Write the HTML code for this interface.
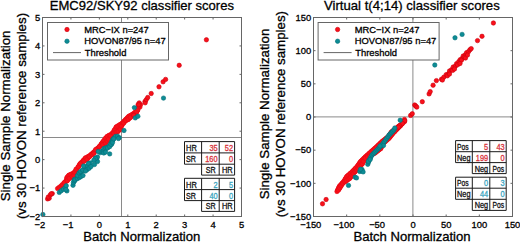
<!DOCTYPE html><html><head><meta charset="utf-8"><style>html,body{margin:0;padding:0;background:#fff;overflow:hidden}svg{display:block}</style></head><body>
<svg width="520" height="242" viewBox="0 0 520 242" xmlns="http://www.w3.org/2000/svg" font-family='"Liberation Sans", sans-serif'>
<rect width="520" height="242" fill="#fff"/>
<text x="141.9" y="9.8" font-size="13.15" text-anchor="middle" fill="#000" stroke="#000" stroke-width="0.3" textLength="184.2" lengthAdjust="spacingAndGlyphs">EMC92/SKY92 classifier scores</text>
<text x="411.9" y="9.8" font-size="13.15" text-anchor="middle" fill="#000" stroke="#000" stroke-width="0.3" textLength="175.7" lengthAdjust="spacingAndGlyphs">Virtual t(4;14) classifier scores</text>
<g transform="translate(9.8,115.9) rotate(-90)"><text x="0" y="0" font-size="13.3" text-anchor="middle" stroke="#000" stroke-width="0.3">Single Sample Normalization</text></g>
<g transform="translate(25.9,116.0) rotate(-90)"><text x="0" y="0" font-size="13.3" text-anchor="middle" stroke="#000" stroke-width="0.3">(vs 30 HOVON reference samples)</text></g>
<text x="141.75" y="241.2" font-size="13.1" text-anchor="middle" fill="#000" stroke="#000" stroke-width="0.3" >Batch Normalization</text>
<g transform="translate(268.5,114.0) rotate(-90)"><text x="0" y="0" font-size="13.3" text-anchor="middle" stroke="#000" stroke-width="0.3">Single Sample Normalization</text></g>
<g transform="translate(284.59999999999997,114.1) rotate(-90)"><text x="0" y="0" font-size="13.3" text-anchor="middle" stroke="#000" stroke-width="0.3">(vs 30 HOVON reference samples)</text></g>
<text x="412.0" y="241.2" font-size="13.1" text-anchor="middle" fill="#000" stroke="#000" stroke-width="0.3" >Batch Normalization</text>
<line x1="121.5" y1="17.5" x2="121.5" y2="216.5" stroke="#8a8a8a" stroke-width="1"/>
<line x1="42.5" y1="137.5" x2="241.5" y2="137.5" stroke="#8a8a8a" stroke-width="1"/>
<polygon points="57.80,186.60 61.40,183.30 64.00,179.50 64.80,176.50 67.50,173.30 71.80,171.30 74.50,168.60 76.50,165.50 77.70,163.00 79.20,161.30 81.80,158.60 84.00,156.00 87.30,154.30 90.00,152.30 93.40,149.30 95.80,146.70 97.50,145.30 99.40,142.60 101.80,139.30 103.80,136.60 105.80,134.50 110.30,131.90 112.50,128.60 114.50,125.30 118.50,122.70 120.80,121.20 123.90,117.90 127.20,114.60 130.70,112.60 133.40,110.60 136.00,108.60 137.80,106.00 138.30,104.00 140.50,104.00 141.00,106.50 140.00,110.00 138.00,114.60 134.80,116.60 132.10,119.20 129.50,121.50 127.30,122.50 125.50,124.60 123.50,127.30 122.20,130.60 119.50,133.30 117.00,134.50 115.00,135.00 112.50,137.50 110.50,140.60 109.00,142.50 107.00,145.00 104.00,146.80 100.50,148.60 97.50,151.00 95.80,154.60 93.50,156.50 91.00,158.50 88.50,161.30 85.20,163.30 82.00,165.50 80.00,168.30 78.00,170.50 77.00,173.00 76.00,176.50 73.80,178.50 70.80,180.30 68.80,182.60 65.50,184.60 62.50,187.90 59.00,190.50" fill="#f8101a"/>
<circle cx="59.42" cy="188.37" r="2.2" fill="#f8101a" stroke="#e80814" stroke-width="0.6"/>
<circle cx="61.22" cy="186.72" r="2.2" fill="#f8101a" stroke="#e80814" stroke-width="0.6"/>
<circle cx="63.21" cy="184.88" r="2.2" fill="#f8101a" stroke="#e80814" stroke-width="0.6"/>
<circle cx="64.68" cy="182.76" r="2.2" fill="#f8101a" stroke="#e80814" stroke-width="0.6"/>
<circle cx="66.21" cy="180.45" r="2.2" fill="#f8101a" stroke="#e80814" stroke-width="0.6"/>
<circle cx="66.97" cy="177.52" r="2.2" fill="#f8101a" stroke="#e80814" stroke-width="0.6"/>
<circle cx="67.98" cy="176.45" r="2.2" fill="#f8101a" stroke="#e80814" stroke-width="0.6"/>
<circle cx="68.93" cy="175.23" r="2.2" fill="#f8101a" stroke="#e80814" stroke-width="0.6"/>
<circle cx="70.66" cy="174.48" r="2.2" fill="#f8101a" stroke="#e80814" stroke-width="0.6"/>
<circle cx="73.26" cy="173.21" r="2.2" fill="#f8101a" stroke="#e80814" stroke-width="0.6"/>
<circle cx="76.36" cy="170.11" r="2.2" fill="#f8101a" stroke="#e80814" stroke-width="0.6"/>
<circle cx="78.58" cy="166.69" r="2.2" fill="#f8101a" stroke="#e80814" stroke-width="0.6"/>
<circle cx="79.72" cy="164.3" r="2.2" fill="#f8101a" stroke="#e80814" stroke-width="0.6"/>
<circle cx="80.96" cy="162.94" r="2.2" fill="#f8101a" stroke="#e80814" stroke-width="0.6"/>
<circle cx="83.58" cy="160.21" r="2.2" fill="#f8101a" stroke="#e80814" stroke-width="0.6"/>
<circle cx="85.48" cy="157.89" r="2.2" fill="#f8101a" stroke="#e80814" stroke-width="0.6"/>
<circle cx="88.56" cy="156.34" r="2.2" fill="#f8101a" stroke="#e80814" stroke-width="0.6"/>
<circle cx="91.49" cy="154.18" r="2.2" fill="#f8101a" stroke="#e80814" stroke-width="0.6"/>
<circle cx="93.29" cy="152.6" r="2.2" fill="#f8101a" stroke="#e80814" stroke-width="0.6"/>
<circle cx="95.1" cy="151.0" r="2.2" fill="#f8101a" stroke="#e80814" stroke-width="0.6"/>
<circle cx="97.48" cy="148.42" r="2.2" fill="#f8101a" stroke="#e80814" stroke-width="0.6"/>
<circle cx="99.3" cy="146.88" r="2.2" fill="#f8101a" stroke="#e80814" stroke-width="0.6"/>
<circle cx="101.35" cy="143.99" r="2.2" fill="#f8101a" stroke="#e80814" stroke-width="0.6"/>
<circle cx="102.54" cy="142.36" r="2.2" fill="#f8101a" stroke="#e80814" stroke-width="0.6"/>
<circle cx="103.73" cy="140.72" r="2.2" fill="#f8101a" stroke="#e80814" stroke-width="0.6"/>
<circle cx="105.64" cy="138.14" r="2.2" fill="#f8101a" stroke="#e80814" stroke-width="0.6"/>
<circle cx="107.3" cy="136.37" r="2.2" fill="#f8101a" stroke="#e80814" stroke-width="0.6"/>
<circle cx="109.25" cy="135.28" r="2.2" fill="#f8101a" stroke="#e80814" stroke-width="0.6"/>
<circle cx="112.02" cy="133.57" r="2.2" fill="#f8101a" stroke="#e80814" stroke-width="0.6"/>
<circle cx="114.52" cy="129.89" r="2.2" fill="#f8101a" stroke="#e80814" stroke-width="0.6"/>
<circle cx="116.31" cy="126.87" r="2.2" fill="#f8101a" stroke="#e80814" stroke-width="0.6"/>
<circle cx="117.81" cy="126.01" r="2.2" fill="#f8101a" stroke="#e80814" stroke-width="0.6"/>
<circle cx="119.81" cy="124.71" r="2.2" fill="#f8101a" stroke="#e80814" stroke-width="0.6"/>
<circle cx="122.32" cy="123.06" r="2.2" fill="#f8101a" stroke="#e80814" stroke-width="0.6"/>
<circle cx="124.1" cy="121.19" r="2.2" fill="#f8101a" stroke="#e80814" stroke-width="0.6"/>
<circle cx="125.62" cy="119.57" r="2.2" fill="#f8101a" stroke="#e80814" stroke-width="0.6"/>
<circle cx="127.25" cy="117.95" r="2.2" fill="#f8101a" stroke="#e80814" stroke-width="0.6"/>
<circle cx="128.68" cy="116.49" r="2.2" fill="#f8101a" stroke="#e80814" stroke-width="0.6"/>
<circle cx="130.14" cy="115.68" r="2.2" fill="#f8101a" stroke="#e80814" stroke-width="0.6"/>
<circle cx="132.04" cy="114.59" r="2.2" fill="#f8101a" stroke="#e80814" stroke-width="0.6"/>
<circle cx="134.85" cy="112.52" r="2.2" fill="#f8101a" stroke="#e80814" stroke-width="0.6"/>
<circle cx="137.73" cy="110.26" r="2.2" fill="#f8101a" stroke="#e80814" stroke-width="0.6"/>
<circle cx="139.95" cy="107.07" r="2.2" fill="#f8101a" stroke="#e80814" stroke-width="0.6"/>
<circle cx="140.63" cy="104.58" r="2.2" fill="#f8101a" stroke="#e80814" stroke-width="0.6"/>
<circle cx="57.57" cy="188.57" r="2.2" fill="#f8101a" stroke="#e80814" stroke-width="0.6"/>
<circle cx="59.32" cy="187.27" r="2.2" fill="#f8101a" stroke="#e80814" stroke-width="0.6"/>
<circle cx="60.89" cy="186.12" r="2.2" fill="#f8101a" stroke="#e80814" stroke-width="0.6"/>
<circle cx="62.22" cy="184.64" r="2.2" fill="#f8101a" stroke="#e80814" stroke-width="0.6"/>
<circle cx="64.05" cy="182.69" r="2.2" fill="#f8101a" stroke="#e80814" stroke-width="0.6"/>
<circle cx="67.29" cy="180.74" r="2.2" fill="#f8101a" stroke="#e80814" stroke-width="0.6"/>
<circle cx="69.28" cy="178.44" r="2.2" fill="#f8101a" stroke="#e80814" stroke-width="0.6"/>
<circle cx="72.38" cy="176.56" r="2.2" fill="#f8101a" stroke="#e80814" stroke-width="0.6"/>
<circle cx="73.93" cy="175.29" r="2.2" fill="#f8101a" stroke="#e80814" stroke-width="0.6"/>
<circle cx="74.72" cy="172.24" r="2.2" fill="#f8101a" stroke="#e80814" stroke-width="0.6"/>
<circle cx="75.98" cy="169.21" r="2.2" fill="#f8101a" stroke="#e80814" stroke-width="0.6"/>
<circle cx="78.13" cy="166.8" r="2.2" fill="#f8101a" stroke="#e80814" stroke-width="0.6"/>
<circle cx="80.34" cy="163.77" r="2.2" fill="#f8101a" stroke="#e80814" stroke-width="0.6"/>
<circle cx="83.9" cy="161.28" r="2.2" fill="#f8101a" stroke="#e80814" stroke-width="0.6"/>
<circle cx="86.97" cy="159.45" r="2.2" fill="#f8101a" stroke="#e80814" stroke-width="0.6"/>
<circle cx="89.34" cy="156.77" r="2.2" fill="#f8101a" stroke="#e80814" stroke-width="0.6"/>
<circle cx="91.99" cy="154.64" r="2.2" fill="#f8101a" stroke="#e80814" stroke-width="0.6"/>
<circle cx="93.86" cy="153.19" r="2.2" fill="#f8101a" stroke="#e80814" stroke-width="0.6"/>
<circle cx="95.61" cy="149.52" r="2.2" fill="#f8101a" stroke="#e80814" stroke-width="0.6"/>
<circle cx="99.2" cy="146.58" r="2.2" fill="#f8101a" stroke="#e80814" stroke-width="0.6"/>
<circle cx="102.84" cy="144.7" r="2.2" fill="#f8101a" stroke="#e80814" stroke-width="0.6"/>
<circle cx="105.44" cy="143.18" r="2.2" fill="#f8101a" stroke="#e80814" stroke-width="0.6"/>
<circle cx="107.12" cy="141.01" r="2.2" fill="#f8101a" stroke="#e80814" stroke-width="0.6"/>
<circle cx="108.53" cy="139.22" r="2.2" fill="#f8101a" stroke="#e80814" stroke-width="0.6"/>
<circle cx="110.63" cy="136.0" r="2.2" fill="#f8101a" stroke="#e80814" stroke-width="0.6"/>
<circle cx="113.67" cy="133.0" r="2.2" fill="#f8101a" stroke="#e80814" stroke-width="0.6"/>
<circle cx="116.15" cy="132.25" r="2.2" fill="#f8101a" stroke="#e80814" stroke-width="0.6"/>
<circle cx="118.06" cy="131.38" r="2.2" fill="#f8101a" stroke="#e80814" stroke-width="0.6"/>
<circle cx="120.2" cy="129.27" r="2.2" fill="#f8101a" stroke="#e80814" stroke-width="0.6"/>
<circle cx="121.4" cy="126.14" r="2.2" fill="#f8101a" stroke="#e80814" stroke-width="0.6"/>
<circle cx="123.62" cy="123.11" r="2.2" fill="#f8101a" stroke="#e80814" stroke-width="0.6"/>
<circle cx="125.83" cy="120.6" r="2.2" fill="#f8101a" stroke="#e80814" stroke-width="0.6"/>
<circle cx="128.14" cy="119.52" r="2.2" fill="#f8101a" stroke="#e80814" stroke-width="0.6"/>
<circle cx="130.47" cy="117.44" r="2.2" fill="#f8101a" stroke="#e80814" stroke-width="0.6"/>
<circle cx="133.32" cy="114.71" r="2.2" fill="#f8101a" stroke="#e80814" stroke-width="0.6"/>
<circle cx="136.28" cy="112.92" r="2.2" fill="#f8101a" stroke="#e80814" stroke-width="0.6"/>
<circle cx="136.8" cy="111.34" r="2.2" fill="#f8101a" stroke="#e80814" stroke-width="0.6"/>
<circle cx="137.73" cy="109.22" r="2.2" fill="#f8101a" stroke="#e80814" stroke-width="0.6"/>
<circle cx="138.61" cy="106.3" r="2.2" fill="#f8101a" stroke="#e80814" stroke-width="0.6"/>
<circle cx="138.15" cy="104.47" r="2.2" fill="#f8101a" stroke="#e80814" stroke-width="0.6"/>
<circle cx="47.6" cy="198.9" r="2.2" fill="#f8101a" stroke="#cc000e" stroke-width="0.6"/>
<circle cx="49.2" cy="198.2" r="2.2" fill="#f8101a" stroke="#cc000e" stroke-width="0.6"/>
<circle cx="48.3" cy="197" r="2.2" fill="#f8101a" stroke="#cc000e" stroke-width="0.6"/>
<circle cx="50.3" cy="195" r="2.2" fill="#f8101a" stroke="#cc000e" stroke-width="0.6"/>
<circle cx="52.3" cy="193.6" r="2.2" fill="#f8101a" stroke="#cc000e" stroke-width="0.6"/>
<circle cx="51.2" cy="193.8" r="2.2" fill="#f8101a" stroke="#cc000e" stroke-width="0.6"/>
<circle cx="145" cy="101.5" r="2.2" fill="#f8101a" stroke="#cc000e" stroke-width="0.6"/>
<circle cx="145.2" cy="102.8" r="2.2" fill="#f8101a" stroke="#cc000e" stroke-width="0.6"/>
<circle cx="146.3" cy="99.6" r="2.2" fill="#f8101a" stroke="#cc000e" stroke-width="0.6"/>
<circle cx="147.7" cy="97.5" r="2.2" fill="#f8101a" stroke="#cc000e" stroke-width="0.6"/>
<circle cx="151.2" cy="93.5" r="2.2" fill="#f8101a" stroke="#cc000e" stroke-width="0.6"/>
<circle cx="159" cy="86.8" r="2.2" fill="#f8101a" stroke="#cc000e" stroke-width="0.6"/>
<circle cx="163.1" cy="81.8" r="2.2" fill="#f8101a" stroke="#cc000e" stroke-width="0.6"/>
<circle cx="165.6" cy="79.4" r="2.2" fill="#f8101a" stroke="#cc000e" stroke-width="0.6"/>
<circle cx="179.2" cy="65.3" r="2.2" fill="#f8101a" stroke="#cc000e" stroke-width="0.6"/>
<circle cx="206.4" cy="39.8" r="2.2" fill="#f8101a" stroke="#cc000e" stroke-width="0.6"/>
<circle cx="139.2" cy="102.9" r="2.2" fill="#f8101a" stroke="#cc000e" stroke-width="0.6"/>
<circle cx="138.8" cy="104.8" r="2.2" fill="#f8101a" stroke="#cc000e" stroke-width="0.6"/>
<circle cx="133.8" cy="115.2" r="2.2" fill="#f8101a" stroke="#cc000e" stroke-width="0.6"/>
<circle cx="74.35" cy="181.4" r="2.2" fill="#0d8c95" stroke="#057078" stroke-width="0.6"/>
<circle cx="76.15" cy="178.9" r="2.2" fill="#0d8c95" stroke="#057078" stroke-width="0.6"/>
<circle cx="77.9" cy="176.47" r="2.2" fill="#0d8c95" stroke="#057078" stroke-width="0.6"/>
<circle cx="80.2" cy="173.68" r="2.2" fill="#0d8c95" stroke="#057078" stroke-width="0.6"/>
<circle cx="82.49" cy="170.9" r="2.2" fill="#0d8c95" stroke="#057078" stroke-width="0.6"/>
<circle cx="84.46" cy="168.93" r="2.2" fill="#0d8c95" stroke="#057078" stroke-width="0.6"/>
<circle cx="86.53" cy="166.86" r="2.2" fill="#0d8c95" stroke="#057078" stroke-width="0.6"/>
<circle cx="88.63" cy="164.77" r="2.2" fill="#0d8c95" stroke="#057078" stroke-width="0.6"/>
<circle cx="90.36" cy="162.9" r="2.2" fill="#0d8c95" stroke="#057078" stroke-width="0.6"/>
<circle cx="100.22" cy="152.66" r="2.2" fill="#0d8c95" stroke="#057078" stroke-width="0.6"/>
<circle cx="102.67" cy="150.64" r="2.2" fill="#0d8c95" stroke="#057078" stroke-width="0.6"/>
<circle cx="105.27" cy="149.53" r="2.2" fill="#0d8c95" stroke="#057078" stroke-width="0.6"/>
<circle cx="108.27" cy="147.11" r="2.2" fill="#0d8c95" stroke="#057078" stroke-width="0.6"/>
<circle cx="111.51" cy="144.31" r="2.2" fill="#0d8c95" stroke="#057078" stroke-width="0.6"/>
<circle cx="112.81" cy="140.16" r="2.2" fill="#0d8c95" stroke="#057078" stroke-width="0.6"/>
<circle cx="42.9" cy="214.5" r="2.2" fill="#0d8c95" stroke="#057078" stroke-width="0.6"/>
<circle cx="59.3" cy="192.4" r="2.2" fill="#0d8c95" stroke="#057078" stroke-width="0.6"/>
<circle cx="61.3" cy="190.7" r="2.2" fill="#0d8c95" stroke="#057078" stroke-width="0.6"/>
<circle cx="63.4" cy="189.2" r="2.2" fill="#0d8c95" stroke="#057078" stroke-width="0.6"/>
<circle cx="65.3" cy="187.4" r="2.2" fill="#0d8c95" stroke="#057078" stroke-width="0.6"/>
<circle cx="66.3" cy="185.7" r="2.2" fill="#0d8c95" stroke="#057078" stroke-width="0.6"/>
<circle cx="66.9" cy="190.9" r="2.2" fill="#0d8c95" stroke="#057078" stroke-width="0.6"/>
<circle cx="65.9" cy="189.6" r="2.2" fill="#0d8c95" stroke="#057078" stroke-width="0.6"/>
<circle cx="73.0" cy="185.3" r="2.2" fill="#0d8c95" stroke="#057078" stroke-width="0.6"/>
<circle cx="73.4" cy="182.8" r="2.2" fill="#0d8c95" stroke="#057078" stroke-width="0.6"/>
<circle cx="73.9" cy="180.8" r="2.2" fill="#0d8c95" stroke="#057078" stroke-width="0.6"/>
<circle cx="74.5" cy="179.3" r="2.2" fill="#0d8c95" stroke="#057078" stroke-width="0.6"/>
<circle cx="75" cy="180" r="2.2" fill="#0d8c95" stroke="#057078" stroke-width="0.6"/>
<circle cx="77.5" cy="178.6" r="2.2" fill="#0d8c95" stroke="#057078" stroke-width="0.6"/>
<circle cx="79.5" cy="177.5" r="2.2" fill="#0d8c95" stroke="#057078" stroke-width="0.6"/>
<circle cx="77.5" cy="175.5" r="2.2" fill="#0d8c95" stroke="#057078" stroke-width="0.6"/>
<circle cx="79" cy="173" r="2.2" fill="#0d8c95" stroke="#057078" stroke-width="0.6"/>
<circle cx="80.5" cy="171.5" r="2.2" fill="#0d8c95" stroke="#057078" stroke-width="0.6"/>
<circle cx="82.5" cy="170" r="2.2" fill="#0d8c95" stroke="#057078" stroke-width="0.6"/>
<circle cx="81" cy="176.5" r="2.2" fill="#0d8c95" stroke="#057078" stroke-width="0.6"/>
<circle cx="83" cy="175.5" r="2.2" fill="#0d8c95" stroke="#057078" stroke-width="0.6"/>
<circle cx="85" cy="167" r="2.2" fill="#0d8c95" stroke="#057078" stroke-width="0.6"/>
<circle cx="87.5" cy="166" r="2.2" fill="#0d8c95" stroke="#057078" stroke-width="0.6"/>
<circle cx="88.5" cy="163.5" r="2.2" fill="#0d8c95" stroke="#057078" stroke-width="0.6"/>
<circle cx="95.5" cy="158" r="2.2" fill="#0d8c95" stroke="#057078" stroke-width="0.6"/>
<circle cx="101.5" cy="151.5" r="2.2" fill="#0d8c95" stroke="#057078" stroke-width="0.6"/>
<circle cx="103.5" cy="151" r="2.2" fill="#0d8c95" stroke="#057078" stroke-width="0.6"/>
<circle cx="104" cy="148.5" r="2.2" fill="#0d8c95" stroke="#057078" stroke-width="0.6"/>
<circle cx="105.5" cy="148" r="2.2" fill="#0d8c95" stroke="#057078" stroke-width="0.6"/>
<circle cx="107" cy="147.5" r="2.2" fill="#0d8c95" stroke="#057078" stroke-width="0.6"/>
<circle cx="109" cy="146" r="2.2" fill="#0d8c95" stroke="#057078" stroke-width="0.6"/>
<circle cx="110.5" cy="144" r="2.2" fill="#0d8c95" stroke="#057078" stroke-width="0.6"/>
<circle cx="111.5" cy="142" r="2.2" fill="#0d8c95" stroke="#057078" stroke-width="0.6"/>
<circle cx="112.5" cy="140" r="2.2" fill="#0d8c95" stroke="#057078" stroke-width="0.6"/>
<circle cx="113.5" cy="138.5" r="2.2" fill="#0d8c95" stroke="#057078" stroke-width="0.6"/>
<circle cx="124" cy="130.5" r="2.2" fill="#0d8c95" stroke="#057078" stroke-width="0.6"/>
<circle cx="115.5" cy="136.5" r="2.2" fill="#0d8c95" stroke="#057078" stroke-width="0.6"/>
<circle cx="117.5" cy="136.2" r="2.2" fill="#0d8c95" stroke="#057078" stroke-width="0.6"/>
<circle cx="119.3" cy="137.6" r="2.2" fill="#0d8c95" stroke="#057078" stroke-width="0.6"/>
<circle cx="134.4" cy="107.6" r="2.2" fill="#0d8c95" stroke="#057078" stroke-width="0.6"/>
<circle cx="135.3" cy="117.9" r="2.2" fill="#0d8c95" stroke="#057078" stroke-width="0.6"/>
<circle cx="137.9" cy="116.3" r="2.2" fill="#0d8c95" stroke="#057078" stroke-width="0.6"/>
<circle cx="163.5" cy="98.1" r="2.2" fill="#0d8c95" stroke="#057078" stroke-width="0.6"/>
<circle cx="87.2" cy="169.6" r="2.2" fill="#0d8c95" stroke="#057078" stroke-width="0.6"/>
<circle cx="89.2" cy="168.2" r="2.2" fill="#0d8c95" stroke="#057078" stroke-width="0.6"/>
<circle cx="96.4" cy="159.5" r="2.2" fill="#0d8c95" stroke="#057078" stroke-width="0.6"/>
<circle cx="97.5" cy="157" r="2.2" fill="#0d8c95" stroke="#057078" stroke-width="0.6"/>
<circle cx="103.8" cy="153" r="2.2" fill="#0d8c95" stroke="#057078" stroke-width="0.6"/>
<circle cx="105.6" cy="152.1" r="2.2" fill="#0d8c95" stroke="#057078" stroke-width="0.6"/>
<circle cx="109.7" cy="153.9" r="2.2" fill="#0d8c95" stroke="#057078" stroke-width="0.6"/>
<circle cx="107.5" cy="148" r="2.2" fill="#0d8c95" stroke="#057078" stroke-width="0.6"/>
<circle cx="109.7" cy="146.6" r="2.2" fill="#0d8c95" stroke="#057078" stroke-width="0.6"/>
<circle cx="111.1" cy="144.4" r="2.2" fill="#0d8c95" stroke="#057078" stroke-width="0.6"/>
<circle cx="112.5" cy="142.5" r="2.2" fill="#0d8c95" stroke="#057078" stroke-width="0.6"/>
<circle cx="113.8" cy="138.9" r="2.2" fill="#0d8c95" stroke="#057078" stroke-width="0.6"/>
<circle cx="118.4" cy="138.5" r="2.2" fill="#0d8c95" stroke="#057078" stroke-width="0.6"/>
<circle cx="83.6" cy="166" r="2.2" fill="#0d8c95" stroke="#057078" stroke-width="0.6"/>
<circle cx="98.2" cy="151.5" r="2.2" fill="#0d8c95" stroke="#057078" stroke-width="0.6"/>
<circle cx="94.5" cy="164.5" r="2.2" fill="#0d8c95" stroke="#057078" stroke-width="0.6"/>
<circle cx="97.5" cy="161.5" r="2.2" fill="#0d8c95" stroke="#057078" stroke-width="0.6"/>
<circle cx="85.5" cy="171" r="2.2" fill="#0d8c95" stroke="#057078" stroke-width="0.6"/>
<circle cx="91" cy="166.5" r="2.2" fill="#0d8c95" stroke="#057078" stroke-width="0.6"/>
<circle cx="95.5" cy="158.5" r="2.2" fill="#0d8c95" stroke="#057078" stroke-width="0.6"/>
<circle cx="93.8" cy="160.2" r="2.2" fill="#0d8c95" stroke="#057078" stroke-width="0.6"/>
<line x1="412.9" y1="17.5" x2="412.9" y2="216.5" stroke="#8a8a8a" stroke-width="1"/>
<line x1="313.5" y1="116.9" x2="512.5" y2="116.9" stroke="#8a8a8a" stroke-width="1"/>
<polygon points="334.80,190.50 337.40,185.00 341.80,180.00 344.90,175.00 350.50,170.00 355.30,165.00 358.80,160.00 363.80,155.00 369.40,150.00 375.00,145.00 380.20,140.00 386.50,135.00 390.00,130.00 394.00,127.00 396.50,125.00 400.00,122.50 402.80,120.00 406.80,120.00 406.30,122.00 404.00,125.00 402.50,127.00 399.50,130.00 394.70,135.00 390.70,140.00 385.00,145.00 382.70,150.00 376.30,155.00 367.00,160.00 364.40,165.00 360.00,170.00 355.20,175.00 351.50,180.00 344.50,185.00 340.40,191.50" fill="#f8101a"/>
<circle cx="336.97" cy="191.53" r="2.2" fill="#f8101a" stroke="#e80814" stroke-width="0.6"/>
<circle cx="337.84" cy="189.69" r="2.2" fill="#f8101a" stroke="#e80814" stroke-width="0.6"/>
<circle cx="338.7" cy="187.86" r="2.2" fill="#f8101a" stroke="#e80814" stroke-width="0.6"/>
<circle cx="339.4" cy="186.33" r="2.2" fill="#f8101a" stroke="#e80814" stroke-width="0.6"/>
<circle cx="340.67" cy="184.92" r="2.2" fill="#f8101a" stroke="#e80814" stroke-width="0.6"/>
<circle cx="342.14" cy="183.25" r="2.2" fill="#f8101a" stroke="#e80814" stroke-width="0.6"/>
<circle cx="343.74" cy="181.41" r="2.2" fill="#f8101a" stroke="#e80814" stroke-width="0.6"/>
<circle cx="345.39" cy="178.76" r="2.2" fill="#f8101a" stroke="#e80814" stroke-width="0.6"/>
<circle cx="346.76" cy="176.52" r="2.2" fill="#f8101a" stroke="#e80814" stroke-width="0.6"/>
<circle cx="348.37" cy="175.12" r="2.2" fill="#f8101a" stroke="#e80814" stroke-width="0.6"/>
<circle cx="350.23" cy="173.46" r="2.2" fill="#f8101a" stroke="#e80814" stroke-width="0.6"/>
<circle cx="352.16" cy="171.73" r="2.2" fill="#f8101a" stroke="#e80814" stroke-width="0.6"/>
<circle cx="353.83" cy="170.0" r="2.2" fill="#f8101a" stroke="#e80814" stroke-width="0.6"/>
<circle cx="355.43" cy="168.33" r="2.2" fill="#f8101a" stroke="#e80814" stroke-width="0.6"/>
<circle cx="357.15" cy="166.53" r="2.2" fill="#f8101a" stroke="#e80814" stroke-width="0.6"/>
<circle cx="358.43" cy="164.71" r="2.2" fill="#f8101a" stroke="#e80814" stroke-width="0.6"/>
<circle cx="359.6" cy="163.04" r="2.2" fill="#f8101a" stroke="#e80814" stroke-width="0.6"/>
<circle cx="360.63" cy="161.55" r="2.2" fill="#f8101a" stroke="#e80814" stroke-width="0.6"/>
<circle cx="362.16" cy="160.03" r="2.2" fill="#f8101a" stroke="#e80814" stroke-width="0.6"/>
<circle cx="363.83" cy="158.36" r="2.2" fill="#f8101a" stroke="#e80814" stroke-width="0.6"/>
<circle cx="365.45" cy="156.75" r="2.2" fill="#f8101a" stroke="#e80814" stroke-width="0.6"/>
<circle cx="367.27" cy="155.12" r="2.2" fill="#f8101a" stroke="#e80814" stroke-width="0.6"/>
<circle cx="369.13" cy="153.46" r="2.2" fill="#f8101a" stroke="#e80814" stroke-width="0.6"/>
<circle cx="371.0" cy="151.79" r="2.2" fill="#f8101a" stroke="#e80814" stroke-width="0.6"/>
<circle cx="372.87" cy="150.12" r="2.2" fill="#f8101a" stroke="#e80814" stroke-width="0.6"/>
<circle cx="374.73" cy="148.46" r="2.2" fill="#f8101a" stroke="#e80814" stroke-width="0.6"/>
<circle cx="376.63" cy="146.76" r="2.2" fill="#f8101a" stroke="#e80814" stroke-width="0.6"/>
<circle cx="378.4" cy="145.06" r="2.2" fill="#f8101a" stroke="#e80814" stroke-width="0.6"/>
<circle cx="380.13" cy="143.4" r="2.2" fill="#f8101a" stroke="#e80814" stroke-width="0.6"/>
<circle cx="381.79" cy="141.8" r="2.2" fill="#f8101a" stroke="#e80814" stroke-width="0.6"/>
<circle cx="383.27" cy="140.63" r="2.2" fill="#f8101a" stroke="#e80814" stroke-width="0.6"/>
<circle cx="384.84" cy="139.38" r="2.2" fill="#f8101a" stroke="#e80814" stroke-width="0.6"/>
<circle cx="386.42" cy="138.13" r="2.2" fill="#f8101a" stroke="#e80814" stroke-width="0.6"/>
<circle cx="388.25" cy="136.64" r="2.2" fill="#f8101a" stroke="#e80814" stroke-width="0.6"/>
<circle cx="389.63" cy="134.71" r="2.2" fill="#f8101a" stroke="#e80814" stroke-width="0.6"/>
<circle cx="390.8" cy="133.04" r="2.2" fill="#f8101a" stroke="#e80814" stroke-width="0.6"/>
<circle cx="391.7" cy="131.7" r="2.2" fill="#f8101a" stroke="#e80814" stroke-width="0.6"/>
<circle cx="393.44" cy="130.42" r="2.2" fill="#f8101a" stroke="#e80814" stroke-width="0.6"/>
<circle cx="395.47" cy="128.89" r="2.2" fill="#f8101a" stroke="#e80814" stroke-width="0.6"/>
<circle cx="397.96" cy="126.91" r="2.2" fill="#f8101a" stroke="#e80814" stroke-width="0.6"/>
<circle cx="399.64" cy="125.7" r="2.2" fill="#f8101a" stroke="#e80814" stroke-width="0.6"/>
<circle cx="401.53" cy="124.35" r="2.2" fill="#f8101a" stroke="#e80814" stroke-width="0.6"/>
<circle cx="404.4" cy="121.79" r="2.2" fill="#f8101a" stroke="#e80814" stroke-width="0.6"/>
<circle cx="338.37" cy="190.22" r="2.2" fill="#f8101a" stroke="#e80814" stroke-width="0.6"/>
<circle cx="339.74" cy="188.05" r="2.2" fill="#f8101a" stroke="#e80814" stroke-width="0.6"/>
<circle cx="341.1" cy="185.89" r="2.2" fill="#f8101a" stroke="#e80814" stroke-width="0.6"/>
<circle cx="342.73" cy="183.38" r="2.2" fill="#f8101a" stroke="#e80814" stroke-width="0.6"/>
<circle cx="344.86" cy="181.8" r="2.2" fill="#f8101a" stroke="#e80814" stroke-width="0.6"/>
<circle cx="346.61" cy="180.55" r="2.2" fill="#f8101a" stroke="#e80814" stroke-width="0.6"/>
<circle cx="348.36" cy="179.3" r="2.2" fill="#f8101a" stroke="#e80814" stroke-width="0.6"/>
<circle cx="349.82" cy="178.28" r="2.2" fill="#f8101a" stroke="#e80814" stroke-width="0.6"/>
<circle cx="350.8" cy="176.91" r="2.2" fill="#f8101a" stroke="#e80814" stroke-width="0.6"/>
<circle cx="352.04" cy="175.24" r="2.2" fill="#f8101a" stroke="#e80814" stroke-width="0.6"/>
<circle cx="353.37" cy="173.45" r="2.2" fill="#f8101a" stroke="#e80814" stroke-width="0.6"/>
<circle cx="355.07" cy="171.67" r="2.2" fill="#f8101a" stroke="#e80814" stroke-width="0.6"/>
<circle cx="356.67" cy="170.0" r="2.2" fill="#f8101a" stroke="#e80814" stroke-width="0.6"/>
<circle cx="358.23" cy="168.38" r="2.2" fill="#f8101a" stroke="#e80814" stroke-width="0.6"/>
<circle cx="359.66" cy="166.75" r="2.2" fill="#f8101a" stroke="#e80814" stroke-width="0.6"/>
<circle cx="361.13" cy="165.08" r="2.2" fill="#f8101a" stroke="#e80814" stroke-width="0.6"/>
<circle cx="362.4" cy="163.67" r="2.2" fill="#f8101a" stroke="#e80814" stroke-width="0.6"/>
<circle cx="363.57" cy="161.39" r="2.2" fill="#f8101a" stroke="#e80814" stroke-width="0.6"/>
<circle cx="365.22" cy="158.39" r="2.2" fill="#f8101a" stroke="#e80814" stroke-width="0.6"/>
<circle cx="367.72" cy="156.89" r="2.2" fill="#f8101a" stroke="#e80814" stroke-width="0.6"/>
<circle cx="369.58" cy="155.89" r="2.2" fill="#f8101a" stroke="#e80814" stroke-width="0.6"/>
<circle cx="371.44" cy="154.89" r="2.2" fill="#f8101a" stroke="#e80814" stroke-width="0.6"/>
<circle cx="373.3" cy="153.89" r="2.2" fill="#f8101a" stroke="#e80814" stroke-width="0.6"/>
<circle cx="374.99" cy="152.99" r="2.2" fill="#f8101a" stroke="#e80814" stroke-width="0.6"/>
<circle cx="376.42" cy="151.86" r="2.2" fill="#f8101a" stroke="#e80814" stroke-width="0.6"/>
<circle cx="378.02" cy="150.61" r="2.2" fill="#f8101a" stroke="#e80814" stroke-width="0.6"/>
<circle cx="379.62" cy="149.36" r="2.2" fill="#f8101a" stroke="#e80814" stroke-width="0.6"/>
<circle cx="380.76" cy="148.58" r="2.2" fill="#f8101a" stroke="#e80814" stroke-width="0.6"/>
<circle cx="381.67" cy="146.5" r="2.2" fill="#f8101a" stroke="#e80814" stroke-width="0.6"/>
<circle cx="383.06" cy="143.58" r="2.2" fill="#f8101a" stroke="#e80814" stroke-width="0.6"/>
<circle cx="385.32" cy="141.53" r="2.2" fill="#f8101a" stroke="#e80814" stroke-width="0.6"/>
<circle cx="387.22" cy="139.86" r="2.2" fill="#f8101a" stroke="#e80814" stroke-width="0.6"/>
<circle cx="388.98" cy="138.33" r="2.2" fill="#f8101a" stroke="#e80814" stroke-width="0.6"/>
<circle cx="390.16" cy="136.83" r="2.2" fill="#f8101a" stroke="#e80814" stroke-width="0.6"/>
<circle cx="391.49" cy="135.17" r="2.2" fill="#f8101a" stroke="#e80814" stroke-width="0.6"/>
<circle cx="392.9" cy="133.41" r="2.2" fill="#f8101a" stroke="#e80814" stroke-width="0.6"/>
<circle cx="394.57" cy="131.67" r="2.2" fill="#f8101a" stroke="#e80814" stroke-width="0.6"/>
<circle cx="396.17" cy="130.0" r="2.2" fill="#f8101a" stroke="#e80814" stroke-width="0.6"/>
<circle cx="397.78" cy="128.32" r="2.2" fill="#f8101a" stroke="#e80814" stroke-width="0.6"/>
<circle cx="399.3" cy="126.8" r="2.2" fill="#f8101a" stroke="#e80814" stroke-width="0.6"/>
<circle cx="400.68" cy="125.44" r="2.2" fill="#f8101a" stroke="#e80814" stroke-width="0.6"/>
<circle cx="402.09" cy="123.55" r="2.2" fill="#f8101a" stroke="#e80814" stroke-width="0.6"/>
<circle cx="404.21" cy="120.83" r="2.2" fill="#f8101a" stroke="#e80814" stroke-width="0.6"/>
<circle cx="404.47" cy="119.42" r="2.2" fill="#f8101a" stroke="#e80814" stroke-width="0.6"/>
<circle cx="441.5" cy="79.2" r="2.2" fill="#f8101a" stroke="#cc000e" stroke-width="0.6"/>
<circle cx="443.8" cy="77.2" r="2.2" fill="#f8101a" stroke="#cc000e" stroke-width="0.6"/>
<circle cx="446.2" cy="74.6" r="2.2" fill="#f8101a" stroke="#cc000e" stroke-width="0.6"/>
<circle cx="448.6" cy="73.6" r="2.2" fill="#f8101a" stroke="#cc000e" stroke-width="0.6"/>
<circle cx="449.5" cy="71" r="2.2" fill="#f8101a" stroke="#cc000e" stroke-width="0.6"/>
<circle cx="451.6" cy="69.6" r="2.2" fill="#f8101a" stroke="#cc000e" stroke-width="0.6"/>
<circle cx="453.2" cy="67" r="2.2" fill="#f8101a" stroke="#cc000e" stroke-width="0.6"/>
<circle cx="455.4" cy="66.2" r="2.2" fill="#f8101a" stroke="#cc000e" stroke-width="0.6"/>
<circle cx="456.6" cy="63.6" r="2.2" fill="#f8101a" stroke="#cc000e" stroke-width="0.6"/>
<circle cx="458.8" cy="61.6" r="2.2" fill="#f8101a" stroke="#cc000e" stroke-width="0.6"/>
<circle cx="460.2" cy="59.6" r="2.2" fill="#f8101a" stroke="#cc000e" stroke-width="0.6"/>
<circle cx="462.2" cy="58.4" r="2.2" fill="#f8101a" stroke="#cc000e" stroke-width="0.6"/>
<circle cx="463.2" cy="56" r="2.2" fill="#f8101a" stroke="#cc000e" stroke-width="0.6"/>
<circle cx="465.4" cy="54.8" r="2.2" fill="#f8101a" stroke="#cc000e" stroke-width="0.6"/>
<circle cx="466.6" cy="52.6" r="2.2" fill="#f8101a" stroke="#cc000e" stroke-width="0.6"/>
<circle cx="468.6" cy="51.6" r="2.2" fill="#f8101a" stroke="#cc000e" stroke-width="0.6"/>
<circle cx="469.9" cy="49.8" r="2.2" fill="#f8101a" stroke="#cc000e" stroke-width="0.6"/>
<circle cx="471.2" cy="48.6" r="2.2" fill="#f8101a" stroke="#cc000e" stroke-width="0.6"/>
<circle cx="447.4" cy="75.8" r="2.2" fill="#f8101a" stroke="#cc000e" stroke-width="0.6"/>
<circle cx="452.6" cy="70.4" r="2.2" fill="#f8101a" stroke="#cc000e" stroke-width="0.6"/>
<circle cx="457.6" cy="64.8" r="2.2" fill="#f8101a" stroke="#cc000e" stroke-width="0.6"/>
<circle cx="461.4" cy="60.2" r="2.2" fill="#f8101a" stroke="#cc000e" stroke-width="0.6"/>
<circle cx="464.4" cy="57.2" r="2.2" fill="#f8101a" stroke="#cc000e" stroke-width="0.6"/>
<circle cx="454.5" cy="69" r="2.2" fill="#f8101a" stroke="#cc000e" stroke-width="0.6"/>
<circle cx="460" cy="63.5" r="2.2" fill="#f8101a" stroke="#cc000e" stroke-width="0.6"/>
<circle cx="465.5" cy="58" r="2.2" fill="#f8101a" stroke="#cc000e" stroke-width="0.6"/>
<circle cx="449.5" cy="74" r="2.2" fill="#f8101a" stroke="#cc000e" stroke-width="0.6"/>
<circle cx="467.5" cy="55" r="2.2" fill="#f8101a" stroke="#cc000e" stroke-width="0.6"/>
<circle cx="322.5" cy="203.8" r="2.2" fill="#f8101a" stroke="#cc000e" stroke-width="0.6"/>
<circle cx="326.1" cy="199.5" r="2.2" fill="#f8101a" stroke="#cc000e" stroke-width="0.6"/>
<circle cx="404.8" cy="120.8" r="2.2" fill="#f8101a" stroke="#cc000e" stroke-width="0.6"/>
<circle cx="402.5" cy="123.5" r="2.2" fill="#f8101a" stroke="#cc000e" stroke-width="0.6"/>
<circle cx="399.4" cy="125.8" r="2.2" fill="#f8101a" stroke="#cc000e" stroke-width="0.6"/>
<circle cx="398.5" cy="127.2" r="2.2" fill="#f8101a" stroke="#cc000e" stroke-width="0.6"/>
<circle cx="410.6" cy="115.4" r="2.2" fill="#f8101a" stroke="#cc000e" stroke-width="0.6"/>
<circle cx="412.3" cy="113.7" r="2.2" fill="#f8101a" stroke="#cc000e" stroke-width="0.6"/>
<circle cx="422.3" cy="101.7" r="2.2" fill="#f8101a" stroke="#cc000e" stroke-width="0.6"/>
<circle cx="414.7" cy="105" r="2.2" fill="#f8101a" stroke="#cc000e" stroke-width="0.6"/>
<circle cx="415.7" cy="106" r="2.2" fill="#f8101a" stroke="#cc000e" stroke-width="0.6"/>
<circle cx="416.8" cy="107.1" r="2.2" fill="#f8101a" stroke="#cc000e" stroke-width="0.6"/>
<circle cx="429.1" cy="93.9" r="2.2" fill="#f8101a" stroke="#cc000e" stroke-width="0.6"/>
<circle cx="430.2" cy="91.6" r="2.2" fill="#f8101a" stroke="#cc000e" stroke-width="0.6"/>
<circle cx="433.1" cy="85.2" r="2.2" fill="#f8101a" stroke="#cc000e" stroke-width="0.6"/>
<circle cx="436.4" cy="80.6" r="2.2" fill="#f8101a" stroke="#cc000e" stroke-width="0.6"/>
<circle cx="442.4" cy="80" r="2.2" fill="#f8101a" stroke="#cc000e" stroke-width="0.6"/>
<circle cx="477.5" cy="40.6" r="2.2" fill="#f8101a" stroke="#cc000e" stroke-width="0.6"/>
<circle cx="482" cy="36.3" r="2.2" fill="#f8101a" stroke="#cc000e" stroke-width="0.6"/>
<circle cx="493.4" cy="23" r="2.2" fill="#f8101a" stroke="#cc000e" stroke-width="0.6"/>
<circle cx="359.8" cy="171.5" r="2.2" fill="#0d8c95" stroke="#057078" stroke-width="0.6"/>
<circle cx="362" cy="169.5" r="2.2" fill="#0d8c95" stroke="#057078" stroke-width="0.6"/>
<circle cx="367.8" cy="164.3" r="2.2" fill="#0d8c95" stroke="#057078" stroke-width="0.6"/>
<circle cx="368.5" cy="162.15" r="2.2" fill="#0d8c95" stroke="#057078" stroke-width="0.6"/>
<circle cx="369.2" cy="160.0" r="2.2" fill="#0d8c95" stroke="#057078" stroke-width="0.6"/>
<circle cx="370.1333333333333" cy="158.33333333333334" r="2.2" fill="#0d8c95" stroke="#057078" stroke-width="0.6"/>
<circle cx="371.06666666666666" cy="156.66666666666666" r="2.2" fill="#0d8c95" stroke="#057078" stroke-width="0.6"/>
<circle cx="372.0" cy="155.0" r="2.2" fill="#0d8c95" stroke="#057078" stroke-width="0.6"/>
<circle cx="373.25" cy="153.75" r="2.2" fill="#0d8c95" stroke="#057078" stroke-width="0.6"/>
<circle cx="374.5" cy="152.5" r="2.2" fill="#0d8c95" stroke="#057078" stroke-width="0.6"/>
<circle cx="375.75" cy="151.25" r="2.2" fill="#0d8c95" stroke="#057078" stroke-width="0.6"/>
<circle cx="377.0" cy="150.0" r="2.2" fill="#0d8c95" stroke="#057078" stroke-width="0.6"/>
<circle cx="378.2" cy="148.75" r="2.2" fill="#0d8c95" stroke="#057078" stroke-width="0.6"/>
<circle cx="379.4" cy="147.5" r="2.2" fill="#0d8c95" stroke="#057078" stroke-width="0.6"/>
<circle cx="380.6" cy="146.25" r="2.2" fill="#0d8c95" stroke="#057078" stroke-width="0.6"/>
<circle cx="381.8" cy="145.0" r="2.2" fill="#0d8c95" stroke="#057078" stroke-width="0.6"/>
<circle cx="383.03333333333336" cy="143.33333333333334" r="2.2" fill="#0d8c95" stroke="#057078" stroke-width="0.6"/>
<circle cx="384.26666666666665" cy="141.66666666666666" r="2.2" fill="#0d8c95" stroke="#057078" stroke-width="0.6"/>
<circle cx="385.5" cy="140.0" r="2.2" fill="#0d8c95" stroke="#057078" stroke-width="0.6"/>
<circle cx="386.7" cy="138.33333333333334" r="2.2" fill="#0d8c95" stroke="#057078" stroke-width="0.6"/>
<circle cx="387.90000000000003" cy="136.66666666666666" r="2.2" fill="#0d8c95" stroke="#057078" stroke-width="0.6"/>
<circle cx="389.1" cy="135.0" r="2.2" fill="#0d8c95" stroke="#057078" stroke-width="0.6"/>
<circle cx="390.3" cy="133.75" r="2.2" fill="#0d8c95" stroke="#057078" stroke-width="0.6"/>
<circle cx="391.5" cy="132.5" r="2.2" fill="#0d8c95" stroke="#057078" stroke-width="0.6"/>
<circle cx="392.7" cy="131.25" r="2.2" fill="#0d8c95" stroke="#057078" stroke-width="0.6"/>
<circle cx="393.9" cy="130.0" r="2.2" fill="#0d8c95" stroke="#057078" stroke-width="0.6"/>
<circle cx="394.8" cy="128" r="2.2" fill="#0d8c95" stroke="#057078" stroke-width="0.6"/>
<circle cx="383.5" cy="145.5" r="2.2" fill="#0d8c95" stroke="#057078" stroke-width="0.6"/>
<circle cx="380" cy="146" r="2.2" fill="#0d8c95" stroke="#057078" stroke-width="0.6"/>
<circle cx="348.5" cy="185.4" r="2.2" fill="#0d8c95" stroke="#057078" stroke-width="0.6"/>
<circle cx="355.2" cy="177.2" r="2.2" fill="#0d8c95" stroke="#057078" stroke-width="0.6"/>
<circle cx="356.5" cy="177.9" r="2.2" fill="#0d8c95" stroke="#057078" stroke-width="0.6"/>
<circle cx="361.8" cy="170.6" r="2.2" fill="#0d8c95" stroke="#057078" stroke-width="0.6"/>
<circle cx="363.1" cy="171.9" r="2.2" fill="#0d8c95" stroke="#057078" stroke-width="0.6"/>
<circle cx="360.5" cy="169.3" r="2.2" fill="#0d8c95" stroke="#057078" stroke-width="0.6"/>
<circle cx="368.4" cy="161.3" r="2.2" fill="#0d8c95" stroke="#057078" stroke-width="0.6"/>
<circle cx="370.2" cy="159.5" r="2.2" fill="#0d8c95" stroke="#057078" stroke-width="0.6"/>
<circle cx="400.2" cy="120.2" r="2.2" fill="#0d8c95" stroke="#057078" stroke-width="0.6"/>
<circle cx="434.8" cy="65" r="2.2" fill="#0d8c95" stroke="#057078" stroke-width="0.6"/>
<circle cx="455" cy="37.8" r="2.2" fill="#0d8c95" stroke="#057078" stroke-width="0.6"/>
<circle cx="462.1" cy="34.4" r="2.2" fill="#0d8c95" stroke="#057078" stroke-width="0.6"/>
<rect x="47.5" y="22.5" width="121" height="37.5" fill="#fff" stroke="#666666" stroke-width="1"/>
<circle cx="67.0" cy="29.5" r="2.2" fill="#f8101a" stroke="#cc000e" stroke-width="0.6"/>
<circle cx="67.0" cy="41.2" r="2.2" fill="#0d8c95" stroke="#057078" stroke-width="0.6"/>
<line x1="53" y1="52.6" x2="81" y2="52.6" stroke="#666666" stroke-width="1"/>
<text x="84.15" y="32.8" font-size="9.4" text-anchor="start" fill="#000" stroke="#000" stroke-width="0.3" >MRC−IX n=247</text>
<text x="84.15" y="44.0" font-size="9.4" text-anchor="start" fill="#000" stroke="#000" stroke-width="0.3" >HOVON87/95 n=47</text>
<text x="84.7" y="55.7" font-size="9.4" text-anchor="start" fill="#000" stroke="#000" stroke-width="0.3" >Threshold</text>
<rect x="318.1" y="22.5" width="121" height="37.5" fill="#fff" stroke="#666666" stroke-width="1"/>
<circle cx="337.6" cy="29.5" r="2.2" fill="#f8101a" stroke="#cc000e" stroke-width="0.6"/>
<circle cx="337.6" cy="41.2" r="2.2" fill="#0d8c95" stroke="#057078" stroke-width="0.6"/>
<line x1="323.6" y1="52.6" x2="351.6" y2="52.6" stroke="#666666" stroke-width="1"/>
<text x="354.75" y="32.8" font-size="9.4" text-anchor="start" fill="#000" stroke="#000" stroke-width="0.3" >MRC−IX n=247</text>
<text x="354.75" y="44.0" font-size="9.4" text-anchor="start" fill="#000" stroke="#000" stroke-width="0.3" >HOVON87/95 n=47</text>
<text x="355.3" y="55.7" font-size="9.4" text-anchor="start" fill="#000" stroke="#000" stroke-width="0.3" >Threshold</text>
<path d="M42.5 216.5v-2M42.5 17.5v2M70.93 216.5v-2M70.93 17.5v2M99.36 216.5v-2M99.36 17.5v2M127.79 216.5v-2M127.79 17.5v2M156.21 216.5v-2M156.21 17.5v2M184.64 216.5v-2M184.64 17.5v2M213.07 216.5v-2M213.07 17.5v2M241.5 216.5v-2M241.5 17.5v2M42.5 216.5h2M241.5 216.5h-2M42.5 188.07h2M241.5 188.07h-2M42.5 159.64h2M241.5 159.64h-2M42.5 131.21h2M241.5 131.21h-2M42.5 102.79h2M241.5 102.79h-2M42.5 74.36h2M241.5 74.36h-2M42.5 45.93h2M241.5 45.93h-2M42.5 17.5h2M241.5 17.5h-2" stroke="#666666" stroke-width="1" fill="none"/>
<rect x="42.5" y="17.5" width="199.0" height="199.0" fill="none" stroke="#666666" stroke-width="1"/>
<text x="45.11" y="227.6" font-size="9.4" text-anchor="end" fill="#000" stroke="#000" stroke-width="0.3" >−2</text>
<text x="73.54" y="227.6" font-size="9.4" text-anchor="end" fill="#000" stroke="#000" stroke-width="0.3" >−1</text>
<text x="99.36" y="227.6" font-size="9.4" text-anchor="middle" fill="#000" stroke="#000" stroke-width="0.3" >0</text>
<text x="127.79" y="227.6" font-size="9.4" text-anchor="middle" fill="#000" stroke="#000" stroke-width="0.3" >1</text>
<text x="156.21" y="227.6" font-size="9.4" text-anchor="middle" fill="#000" stroke="#000" stroke-width="0.3" >2</text>
<text x="184.64" y="227.6" font-size="9.4" text-anchor="middle" fill="#000" stroke="#000" stroke-width="0.3" >3</text>
<text x="213.07" y="227.6" font-size="9.4" text-anchor="middle" fill="#000" stroke="#000" stroke-width="0.3" >4</text>
<text x="241.5" y="227.6" font-size="9.4" text-anchor="middle" fill="#000" stroke="#000" stroke-width="0.3" >5</text>
<text x="40.2" y="219.8" font-size="9.4" text-anchor="end" fill="#000" stroke="#000" stroke-width="0.3" >−2</text>
<text x="40.2" y="191.37" font-size="9.4" text-anchor="end" fill="#000" stroke="#000" stroke-width="0.3" >−1</text>
<text x="40.2" y="162.94" font-size="9.4" text-anchor="end" fill="#000" stroke="#000" stroke-width="0.3" >0</text>
<text x="40.2" y="134.51" font-size="9.4" text-anchor="end" fill="#000" stroke="#000" stroke-width="0.3" >1</text>
<text x="40.2" y="106.09" font-size="9.4" text-anchor="end" fill="#000" stroke="#000" stroke-width="0.3" >2</text>
<text x="40.2" y="77.66" font-size="9.4" text-anchor="end" fill="#000" stroke="#000" stroke-width="0.3" >3</text>
<text x="40.2" y="49.23" font-size="9.4" text-anchor="end" fill="#000" stroke="#000" stroke-width="0.3" >4</text>
<text x="40.2" y="20.8" font-size="9.4" text-anchor="end" fill="#000" stroke="#000" stroke-width="0.3" >5</text>
<path d="M313.5 216.5v-2M313.5 17.5v2M346.67 216.5v-2M346.67 17.5v2M379.83 216.5v-2M379.83 17.5v2M413.0 216.5v-2M413.0 17.5v2M446.17 216.5v-2M446.17 17.5v2M479.33 216.5v-2M479.33 17.5v2M512.5 216.5v-2M512.5 17.5v2M313.5 216.5h2M512.5 216.5h-2M313.5 183.33h2M512.5 183.33h-2M313.5 150.17h2M512.5 150.17h-2M313.5 117.0h2M512.5 117.0h-2M313.5 83.83h2M512.5 83.83h-2M313.5 50.67h2M512.5 50.67h-2M313.5 17.5h2M512.5 17.5h-2" stroke="#666666" stroke-width="1" fill="none"/>
<rect x="313.5" y="17.5" width="199.0" height="199.0" fill="none" stroke="#666666" stroke-width="1"/>
<text x="321.34" y="227.6" font-size="9.4" text-anchor="end" fill="#000" stroke="#000" stroke-width="0.3" >−150</text>
<text x="354.51" y="227.6" font-size="9.4" text-anchor="end" fill="#000" stroke="#000" stroke-width="0.3" >−100</text>
<text x="385.06" y="227.6" font-size="9.4" text-anchor="end" fill="#000" stroke="#000" stroke-width="0.3" >−50</text>
<text x="413.0" y="227.6" font-size="9.4" text-anchor="middle" fill="#000" stroke="#000" stroke-width="0.3" >0</text>
<text x="446.17" y="227.6" font-size="9.4" text-anchor="middle" fill="#000" stroke="#000" stroke-width="0.3" >50</text>
<text x="479.33" y="227.6" font-size="9.4" text-anchor="middle" fill="#000" stroke="#000" stroke-width="0.3" >100</text>
<text x="512.5" y="227.6" font-size="9.4" text-anchor="middle" fill="#000" stroke="#000" stroke-width="0.3" >150</text>
<text x="311.2" y="219.8" font-size="9.4" text-anchor="end" fill="#000" stroke="#000" stroke-width="0.3" >−150</text>
<text x="311.2" y="186.63" font-size="9.4" text-anchor="end" fill="#000" stroke="#000" stroke-width="0.3" >−100</text>
<text x="311.2" y="153.47" font-size="9.4" text-anchor="end" fill="#000" stroke="#000" stroke-width="0.3" >−50</text>
<text x="311.2" y="120.3" font-size="9.4" text-anchor="end" fill="#000" stroke="#000" stroke-width="0.3" >0</text>
<text x="311.2" y="87.13" font-size="9.4" text-anchor="end" fill="#000" stroke="#000" stroke-width="0.3" >50</text>
<text x="311.2" y="53.97" font-size="9.4" text-anchor="end" fill="#000" stroke="#000" stroke-width="0.3" >100</text>
<text x="311.2" y="20.8" font-size="9.4" text-anchor="end" fill="#000" stroke="#000" stroke-width="0.3" >150</text>
<rect x="184.5" y="141.6" width="50.099999999999994" height="22.599999999999994" fill="#fff"/>
<rect x="201.6" y="164.2" width="33.0" height="10.900000000000006" fill="#fff"/>
<path d="M184.5 141.6H234.6M184.5 152.9H234.6M184.5 164.2H234.6M201.6 175.1H234.6M184.5 141.6V164.2M201.6 141.6V175.1M219.2 141.6V175.1M234.6 141.6V175.1" stroke="#1a1a1a" stroke-width="1" fill="none"/>
<text transform="translate(186.00 150.80) scale(0.89 1)" font-size="8.4" text-anchor="start" fill="#111" stroke="#111" stroke-width="0.3">HR</text>
<text transform="translate(217.60 150.80) scale(0.88 1)" font-size="8.4" text-anchor="end" fill="#d8343c" stroke="#d8343c" stroke-width="0.3">35</text>
<text transform="translate(233.00 150.80) scale(0.88 1)" font-size="8.4" text-anchor="end" fill="#d8343c" stroke="#d8343c" stroke-width="0.3">52</text>
<text transform="translate(186.00 162.10) scale(0.85 1)" font-size="8.4" text-anchor="start" fill="#111" stroke="#111" stroke-width="0.3">SR</text>
<text transform="translate(217.60 162.10) scale(0.88 1)" font-size="8.4" text-anchor="end" fill="#d8343c" stroke="#d8343c" stroke-width="0.3">160</text>
<text transform="translate(233.00 162.10) scale(0.88 1)" font-size="8.4" text-anchor="end" fill="#d8343c" stroke="#d8343c" stroke-width="0.3">0</text>
<text transform="translate(210.80 173.00) scale(0.85 1)" font-size="8.4" text-anchor="middle" fill="#111" stroke="#111" stroke-width="0.3">SR</text>
<text transform="translate(227.30 173.00) scale(0.89 1)" font-size="8.4" text-anchor="middle" fill="#111" stroke="#111" stroke-width="0.3">HR</text>
<rect x="184.5" y="178.3" width="50.099999999999994" height="22.299999999999983" fill="#fff"/>
<rect x="201.6" y="200.6" width="33.0" height="10.800000000000011" fill="#fff"/>
<path d="M184.5 178.3H234.6M184.5 189.6H234.6M184.5 200.6H234.6M201.6 211.4H234.6M184.5 178.3V200.6M201.6 178.3V211.4M219.2 178.3V211.4M234.6 178.3V211.4" stroke="#1a1a1a" stroke-width="1" fill="none"/>
<text transform="translate(186.00 187.50) scale(0.89 1)" font-size="8.4" text-anchor="start" fill="#111" stroke="#111" stroke-width="0.3">HR</text>
<text transform="translate(217.60 187.50) scale(0.88 1)" font-size="8.4" text-anchor="end" fill="#3aa6c0" stroke="#3aa6c0" stroke-width="0.3">2</text>
<text transform="translate(233.00 187.50) scale(0.88 1)" font-size="8.4" text-anchor="end" fill="#3aa6c0" stroke="#3aa6c0" stroke-width="0.3">5</text>
<text transform="translate(186.00 198.50) scale(0.85 1)" font-size="8.4" text-anchor="start" fill="#111" stroke="#111" stroke-width="0.3">SR</text>
<text transform="translate(217.60 198.50) scale(0.88 1)" font-size="8.4" text-anchor="end" fill="#3aa6c0" stroke="#3aa6c0" stroke-width="0.3">40</text>
<text transform="translate(233.00 198.50) scale(0.88 1)" font-size="8.4" text-anchor="end" fill="#3aa6c0" stroke="#3aa6c0" stroke-width="0.3">0</text>
<text transform="translate(210.80 209.30) scale(0.85 1)" font-size="8.4" text-anchor="middle" fill="#111" stroke="#111" stroke-width="0.3">SR</text>
<text transform="translate(227.30 209.30) scale(0.89 1)" font-size="8.4" text-anchor="middle" fill="#111" stroke="#111" stroke-width="0.3">HR</text>
<rect x="455.6" y="140.6" width="50.599999999999966" height="22.0" fill="#fff"/>
<rect x="472.3" y="162.6" width="33.89999999999998" height="11.0" fill="#fff"/>
<path d="M455.6 140.6H506.2M455.6 151.7H506.2M455.6 162.6H506.2M472.3 173.6H506.2M455.6 140.6V162.6M472.3 140.6V173.6M489.8 140.6V173.6M506.2 140.6V173.6" stroke="#1a1a1a" stroke-width="1" fill="none"/>
<text transform="translate(457.10 149.60) scale(0.8 1)" font-size="8.4" text-anchor="start" fill="#111" stroke="#111" stroke-width="0.3">Pos</text>
<text transform="translate(488.20 149.60) scale(0.88 1)" font-size="8.4" text-anchor="end" fill="#d8343c" stroke="#d8343c" stroke-width="0.3">5</text>
<text transform="translate(504.60 149.60) scale(0.88 1)" font-size="8.4" text-anchor="end" fill="#d8343c" stroke="#d8343c" stroke-width="0.3">43</text>
<text transform="translate(457.10 160.50) scale(0.87 1)" font-size="8.4" text-anchor="start" fill="#111" stroke="#111" stroke-width="0.3">Neg</text>
<text transform="translate(488.20 160.50) scale(0.88 1)" font-size="8.4" text-anchor="end" fill="#d8343c" stroke="#d8343c" stroke-width="0.3">199</text>
<text transform="translate(504.60 160.50) scale(0.88 1)" font-size="8.4" text-anchor="end" fill="#d8343c" stroke="#d8343c" stroke-width="0.3">0</text>
<text transform="translate(481.45 171.50) scale(0.87 1)" font-size="8.4" text-anchor="middle" fill="#111" stroke="#111" stroke-width="0.3">Neg</text>
<text transform="translate(498.40 171.50) scale(0.8 1)" font-size="8.4" text-anchor="middle" fill="#111" stroke="#111" stroke-width="0.3">Pos</text>
<rect x="455.6" y="177.2" width="50.599999999999966" height="22.100000000000023" fill="#fff"/>
<rect x="472.3" y="199.3" width="33.89999999999998" height="11.099999999999994" fill="#fff"/>
<path d="M455.6 177.2H506.2M455.6 188.2H506.2M455.6 199.3H506.2M472.3 210.4H506.2M455.6 177.2V199.3M472.3 177.2V210.4M489.8 177.2V210.4M506.2 177.2V210.4" stroke="#1a1a1a" stroke-width="1" fill="none"/>
<text transform="translate(457.10 186.10) scale(0.8 1)" font-size="8.4" text-anchor="start" fill="#111" stroke="#111" stroke-width="0.3">Pos</text>
<text transform="translate(488.20 186.10) scale(0.88 1)" font-size="8.4" text-anchor="end" fill="#3aa6c0" stroke="#3aa6c0" stroke-width="0.3">0</text>
<text transform="translate(504.60 186.10) scale(0.88 1)" font-size="8.4" text-anchor="end" fill="#3aa6c0" stroke="#3aa6c0" stroke-width="0.3">3</text>
<text transform="translate(457.10 197.20) scale(0.87 1)" font-size="8.4" text-anchor="start" fill="#111" stroke="#111" stroke-width="0.3">Neg</text>
<text transform="translate(488.20 197.20) scale(0.88 1)" font-size="8.4" text-anchor="end" fill="#3aa6c0" stroke="#3aa6c0" stroke-width="0.3">44</text>
<text transform="translate(504.60 197.20) scale(0.88 1)" font-size="8.4" text-anchor="end" fill="#3aa6c0" stroke="#3aa6c0" stroke-width="0.3">0</text>
<text transform="translate(481.45 208.30) scale(0.87 1)" font-size="8.4" text-anchor="middle" fill="#111" stroke="#111" stroke-width="0.3">Neg</text>
<text transform="translate(498.40 208.30) scale(0.8 1)" font-size="8.4" text-anchor="middle" fill="#111" stroke="#111" stroke-width="0.3">Pos</text>
</svg></body></html>
